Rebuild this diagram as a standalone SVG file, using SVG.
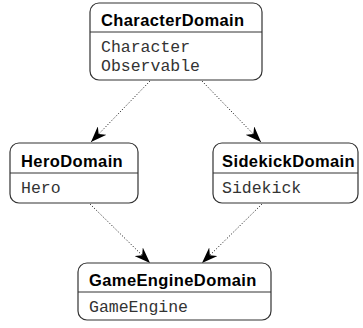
<svg xmlns="http://www.w3.org/2000/svg" width="363" height="328" viewBox="0 0 363 328">
  <style>
    .box { fill: #ffffff; stroke: #333333; stroke-width: 1.2; }
    .sep { stroke: #333333; stroke-width: 1; }
    .title { font-family: "Liberation Sans", Arial, sans-serif; font-weight: bold; font-size: 16.5px; letter-spacing: 0.4px; fill: #000000; }
    .member { font-family: "Liberation Mono", "Courier New", monospace; font-size: 16.5px; fill: #333333; }
    .dep { fill: none; stroke: #000000; stroke-width: 1; stroke-dasharray: 1 2; marker-end: url(#arrow); }
  </style>
  <defs>
    <marker id="arrow" viewBox="0 0 16 12" refX="16" refY="6" markerWidth="16" markerHeight="12" markerUnits="userSpaceOnUse" orient="auto">
      <path d="M0,0 L16,6 L0,12 L5,6 Z" fill="#000000"/>
    </marker>
  </defs>

  <g id="connectors">
    <line class="dep" x1="150" y1="81" x2="91" y2="142"/>
    <line class="dep" x1="202" y1="81" x2="261" y2="142"/>
    <line class="dep" x1="90" y1="204" x2="150" y2="263"/>
    <line class="dep" x1="262" y1="204" x2="202" y2="263"/>
  </g>

  <g id="CharacterDomain">
    <rect class="box" x="90" y="3" width="172" height="77" rx="9"/>
    <line class="sep" x1="90" y1="32" x2="262" y2="32"/>
    <text class="title" x="101" y="26">CharacterDomain</text>
    <text class="member" x="101" y="52">Character</text>
    <text class="member" x="101" y="71">Observable</text>
  </g>

  <g id="HeroDomain">
    <rect class="box" x="10" y="143" width="128" height="60" rx="9"/>
    <line class="sep" x1="10" y1="173" x2="138" y2="173"/>
    <text class="title" x="21" y="167">HeroDomain</text>
    <text class="member" x="21" y="193">Hero</text>
  </g>

  <g id="SidekickDomain">
    <rect class="box" x="213" y="143" width="145" height="60" rx="9"/>
    <line class="sep" x1="213" y1="173" x2="358" y2="173"/>
    <text class="title" x="222" y="167">SidekickDomain</text>
    <text class="member" x="222" y="193">Sidekick</text>
  </g>

  <g id="GameEngineDomain">
    <rect class="box" x="78" y="263" width="193" height="57" rx="9"/>
    <line class="sep" x1="78" y1="292" x2="271" y2="292"/>
    <text class="title" x="89" y="286">GameEngineDomain</text>
    <text class="member" x="89" y="312">GameEngine</text>
  </g>
</svg>
